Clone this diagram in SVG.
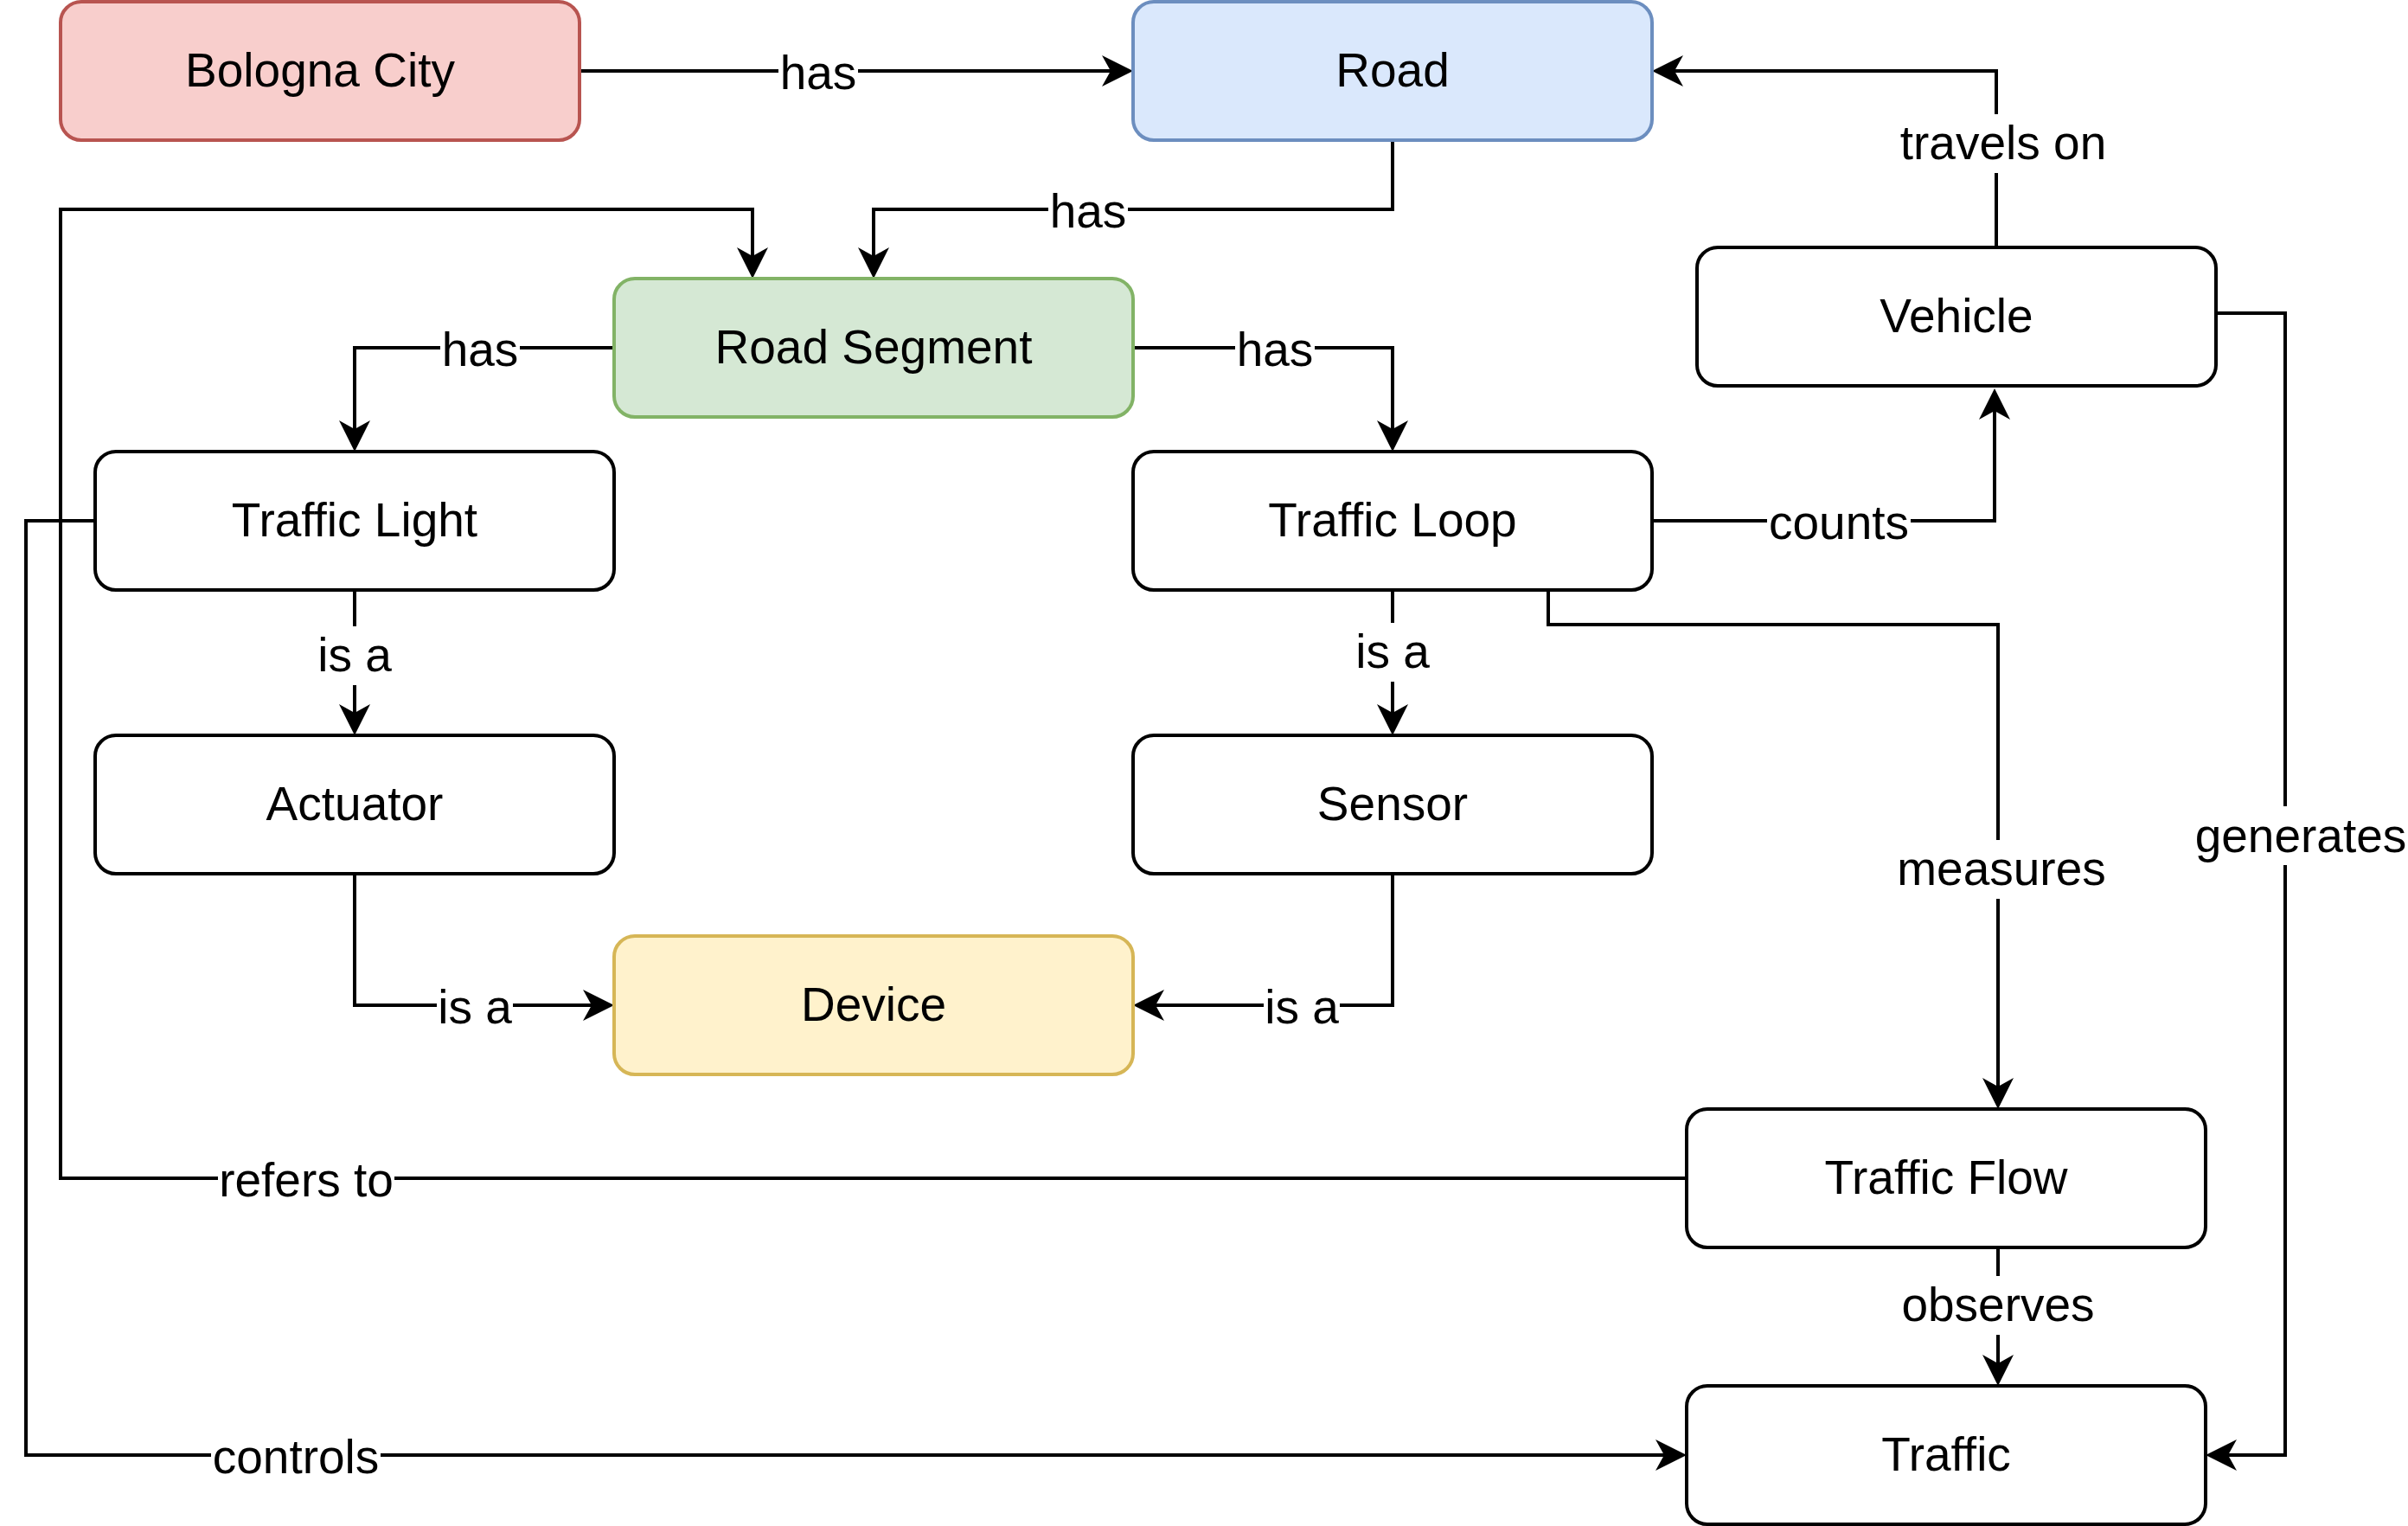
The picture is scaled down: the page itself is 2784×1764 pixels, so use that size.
<svg xmlns="http://www.w3.org/2000/svg" width="2784" height="1764" viewBox="0 0 2784 1764">
<style>
.node rect{stroke-width:4}
.plain{fill:#ffffff;stroke:#000000}
.red{fill:#f8cecc;stroke:#b85450}
.blue{fill:#dae8fc;stroke:#6c8ebf}
.green{fill:#d5e8d4;stroke:#82b366}
.yellow{fill:#fff2cc;stroke:#d6b656}
text{font-family:"Liberation Sans",Arial,Helvetica,sans-serif;font-size:55px;fill:#000000;text-anchor:middle}
.edge{fill:none;stroke:#000000;stroke-width:4;marker-end:url(#arr)}
.lblbg{fill:#ffffff;stroke:none}
</style>
<defs>
<marker id="arr" markerUnits="userSpaceOnUse" viewBox="0 0 36 36" refX="10" refY="18" markerWidth="36" markerHeight="36" orient="auto">
<path d="M0,0 L36,18 L0,36 L10,18 Z" fill="#000000"/>
</marker>
</defs>
<rect x="0" y="0" width="2784" height="1764" fill="#ffffff"/>
<g id="connectors">
<path id="e1" class="edge" d="M670,82 H1284"/>
<path id="e2" class="edge" d="M1610,162 V242 H1010 V296"/>
<path id="e3" class="edge" d="M1950,1362 H70 V242 H870 V296"/>
<path id="e4" class="edge" d="M710,402 H410 V496"/>
<path id="e5" class="edge" d="M1310,402 H1610 V496"/>
<path id="e6" class="edge" d="M410,682 V824"/>
<path id="e7" class="edge" d="M1610,682 V824"/>
<path id="e8" class="edge" d="M410,1010 V1162 H684"/>
<path id="e9" class="edge" d="M1610,1010 V1162 H1336"/>
<path id="e10" class="edge" d="M1910,602 H2306 V475"/>
<path id="e11" class="edge" d="M2308,286 V82 H1936"/>
<path id="e12" class="edge" d="M1790,682 V722 H2310 V1256"/>
<path id="e13" class="edge" d="M2562,362 H2642 V1682 H2576"/>
<path id="e14" class="edge" d="M110,602 H30 V1682 H1924"/>
<path id="e15" class="edge" d="M2310,1442 V1576"/>
<g id="labels">
<rect class="lblbg" x="900" y="51" width="92" height="68"/><text x="946" y="103">has</text>
<rect class="lblbg" x="1212" y="211" width="92" height="68"/><text x="1258" y="263">has</text>
<rect class="lblbg" x="252" y="1331" width="204" height="68"/><text x="354" y="1383">refers to</text>
<rect class="lblbg" x="509" y="371" width="92" height="68"/><text x="555" y="423">has</text>
<rect class="lblbg" x="1428" y="371" width="92" height="68"/><text x="1474" y="423">has</text>
<rect class="lblbg" x="366" y="724" width="88" height="68"/><text x="410" y="776">is a</text>
<rect class="lblbg" x="1566" y="720" width="88" height="68"/><text x="1610" y="772">is a</text>
<rect class="lblbg" x="505" y="1131" width="88" height="68"/><text x="549" y="1183">is a</text>
<rect class="lblbg" x="1461" y="1131" width="88" height="68"/><text x="1505" y="1183">is a</text>
<rect class="lblbg" x="2043" y="571" width="166" height="68"/><text x="2126" y="623">counts</text>
<rect class="lblbg" x="2196" y="132" width="242" height="68"/><text x="2316" y="184">travels on</text>
<rect class="lblbg" x="2193" y="971" width="244" height="68"/><text x="2314" y="1023">measures</text>
<rect class="lblbg" x="2536" y="932" width="248" height="68"/><text x="2660" y="985">generates</text>
<rect class="lblbg" x="244" y="1651" width="196" height="68"/><text x="342" y="1703">controls</text>
<rect class="lblbg" x="2197" y="1475" width="226" height="68"/><text x="2310" y="1527">observes</text>
</g>
</g>
<g id="n-bologna" class="node"><rect class="red" x="70" y="2" width="600" height="160" rx="24" ry="24"/><text x="370" y="100">Bologna City</text></g>
<g id="n-road" class="node"><rect class="blue" x="1310" y="2" width="600" height="160" rx="24" ry="24"/><text x="1610" y="100">Road</text></g>
<g id="n-vehicle" class="node"><rect class="plain" x="1962" y="286" width="600" height="160" rx="24" ry="24"/><text x="2262" y="384">Vehicle</text></g>
<g id="n-roadsegment" class="node"><rect class="green" x="710" y="322" width="600" height="160" rx="24" ry="24"/><text x="1010" y="420">Road Segment</text></g>
<g id="n-trafficlight" class="node"><rect class="plain" x="110" y="522" width="600" height="160" rx="24" ry="24"/><text x="410" y="620">Traffic Light</text></g>
<g id="n-trafficloop" class="node"><rect class="plain" x="1310" y="522" width="600" height="160" rx="24" ry="24"/><text x="1610" y="620">Traffic Loop</text></g>
<g id="n-actuator" class="node"><rect class="plain" x="110" y="850" width="600" height="160" rx="24" ry="24"/><text x="410" y="948">Actuator</text></g>
<g id="n-sensor" class="node"><rect class="plain" x="1310" y="850" width="600" height="160" rx="24" ry="24"/><text x="1610" y="948">Sensor</text></g>
<g id="n-device" class="node"><rect class="yellow" x="710" y="1082" width="600" height="160" rx="24" ry="24"/><text x="1010" y="1180">Device</text></g>
<g id="n-trafficflow" class="node"><rect class="plain" x="1950" y="1282" width="600" height="160" rx="24" ry="24"/><text x="2250" y="1380">Traffic Flow</text></g>
<g id="n-traffic" class="node"><rect class="plain" x="1950" y="1602" width="600" height="160" rx="24" ry="24"/><text x="2250" y="1700">Traffic</text></g>
</svg>
